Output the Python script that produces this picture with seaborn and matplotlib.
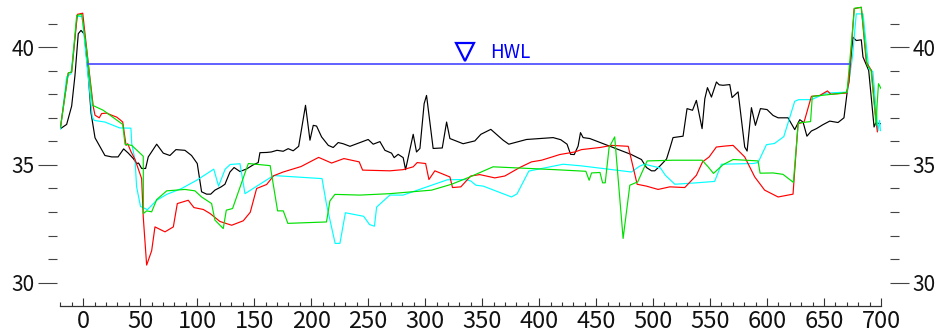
import numpy as np
import pandas as pd
import matplotlib
matplotlib.use("Agg")
import matplotlib.pyplot as plt
import matplotlib.transforms as mtransforms
from matplotlib.ticker import FixedLocator
import seaborn as sns

# ---------------- data ----------------
black_x = [-20, -14.6, -10.2, -7.3, -4.4, -2, 0.9, 4.4, 6.8, 10.3, 19, 25, 30.5, 35.4, 39.5, 43.9, 46.8, 48.5,
           51.2, 54.7, 57, 64.4, 70.2, 76, 81.3, 89.2, 95, 100, 103.8, 108.2, 111.8, 115.5, 121, 124.3, 128.7,
           132.3, 137.5, 143.3, 149, 153.5, 155, 160.9, 165, 170, 175.4, 179.8, 184.2, 189, 195, 198.9, 201.8,
           204.7, 209.1, 215, 219.3, 223.7, 228, 234, 250, 254.4, 260.3, 264.7, 270.5, 272.8, 276.3, 280.7,
           282.8, 289.5, 292.4, 295.4, 299.1, 301.2, 307, 315, 318.8, 321.7, 333.3, 343.6, 348.9, 357.6, 368.4,
           373.4, 388.9, 412.3, 419, 424.5, 427.6, 430.8, 434.2, 436.3, 438.6, 444.5, 480.5, 489.8, 494.2,
           498.6, 501.5, 505.9, 511.8, 514.7, 517.5, 526.3, 529.8, 534.6, 538, 543, 545.4, 547.7, 551.2, 555.6,
           558, 561.4, 567.3, 569.3, 574.6, 580.4, 582.5, 586.3, 589.8, 594.2, 600, 605.3, 609.7, 618.4, 624.3,
           628.7, 631.6, 635, 638.9, 643.3, 649.1, 655, 662.3, 667.5, 671.6, 675.4, 678.3, 682.7, 684.2, 689.2,
           693.9, 695.3, 700]
black_y = [36.54, 36.72, 37.5, 38.8, 40.57, 40.71, 40.55, 38.8, 37.2, 36.15, 35.4, 35.34, 35.34, 35.68, 35.5,
           35.27, 35.06, 35.08, 34.85, 34.85, 35.34, 35.88, 35.5, 35.4, 35.65, 35.62, 35.4, 35.06, 33.86, 33.76,
           33.76, 33.93, 34.07, 34.18, 34.7, 34.89, 34.72, 34.83, 35.0, 35.1, 35.52, 35.53, 35.55, 35.62, 35.58,
           35.69, 35.6, 35.79, 37.53, 36.05, 36.68, 36.65, 36.19, 35.83, 35.74, 35.95, 35.9, 35.79, 36.08, 35.88,
           35.99, 35.62, 35.5, 35.31, 35.45, 35.31, 34.8, 36.3, 35.55, 35.7, 37.6, 37.95, 35.7, 35.72, 36.82,
           36.12, 35.9, 36.02, 36.3, 36.51, 36.05, 35.88, 36.08, 36.16, 36.07, 35.88, 35.45, 35.44, 35.8, 36.37,
           36.16, 36.12, 35.45, 35.23, 34.89, 34.75, 34.75, 34.95, 35.25, 35.7, 36.16, 36.22, 37.39, 37.32, 37.74,
           36.54, 37.81, 38.28, 37.88, 38.52, 38.4, 38.38, 38.41, 37.86, 38.1, 35.76, 35.59, 37.43, 36.68, 37.39,
           37.35, 37.1, 37.0, 37.0, 36.5, 36.92, 36.82, 36.22, 36.44, 36.54, 36.71, 36.86, 36.8, 37.0, 38.59,
           40.42, 40.28, 40.31, 39.58, 39.01, 36.61, 36.78, 36.75]

red_x = [-20, -13.2, -10.2, -5.2, -0.5, 4.4, 8.8, 10.3, 14, 16.1, 20.5, 24.9, 29.3, 32.2, 34.6, 37.5, 39,
         41.6, 45.4, 51.2, 52.6, 55.6, 60, 62.9, 71.7, 79, 82.5, 92.1, 97.1, 105.3, 111.2, 119.9, 130.2, 140.4,
         146.5, 152.1, 160.9, 167, 175.4, 191, 206.5, 217.9, 228.7, 242.1, 245.1, 269, 280.7, 289.5, 293, 300.4,
         303.3, 308.5, 321.7, 324, 331.3, 340, 347.9, 361.1, 369.9, 383, 393.3, 402.1, 411.5, 418, 431.3,
         437.1, 453.4, 463.6, 478.2, 486, 494.2, 504.4, 514.7, 527.8, 538, 543.4, 549.2, 555.5, 562.9, 570.2,
         580.4, 589.2, 597.9, 609.7, 622.8, 627.2, 632.5, 638.9, 646.2, 653, 656, 669.6, 672, 676.4, 682.7,
         687.1, 691.6, 695, 696.8]
red_y = [36.62, 38.9, 38.94, 41.39, 41.44, 39.3, 37.46, 37.11, 37.0, 37.18, 37.2, 37.11, 37.03, 36.92, 36.82,
         35.83, 35.9, 35.59, 35.23, 34.42, 32.8, 30.75, 31.36, 32.37, 32.16, 32.37, 33.36, 33.5, 33.19, 33.11,
         32.94, 32.6, 32.44, 32.63, 32.99, 34.0, 34.17, 34.54, 34.7, 34.93, 35.32, 35.08, 35.27, 35.13, 34.78,
         34.75, 34.8, 34.92, 35.1, 35.06, 34.38, 34.75, 34.49, 34.04, 34.07, 34.53, 34.59, 34.45, 34.53, 34.89,
         35.13, 35.2, 35.34, 35.44, 35.55, 35.65, 35.74, 35.83, 35.79, 34.18, 34.1, 33.96, 34.07, 34.04, 34.56,
         35.13, 35.34, 35.76, 35.8, 35.83, 35.34, 34.49, 33.93, 33.64, 33.76, 36.75, 36.82, 37.91, 37.95,
         38.14, 38.0, 38.05, 38.52, 41.63, 41.69, 39.36, 39.01, 37.18, 36.4]

green_x = [-20, -13.2, -10.2, -5.8, -1.4, 3, 8.2, 17.5, 34.6, 36.6, 42.5, 52.6, 52.8, 55.6, 60, 64.4, 73.2,
           89.2, 98, 103.8, 112.6, 115.5, 122.8, 125.5, 131, 144.8, 164, 170.5, 175.5, 179.5, 213.4, 216.4,
           220.8, 242.7, 269, 305.6, 323.2, 339.2, 359.6, 413.8, 441, 443.9, 446, 453.4, 455.7, 458, 461.4,
           466.3, 473.7, 479.6, 486.5, 494.8, 517.5, 543, 548.3, 553, 561.4, 570.2, 592.1, 593.9, 605.3, 614,
           623.1, 627.4, 638.2, 639.7, 666.7, 670.2, 676.7, 682.7, 687.8, 691.3, 695.8, 696.5, 697.8, 700]
green_y = [36.6, 38.9, 38.95, 41.34, 41.39, 39.86, 37.53, 37.32, 36.72, 35.88, 35.83, 35.37, 32.94, 33.05,
           33.01, 33.53, 33.9, 33.96, 33.9, 33.64, 33.36, 32.66, 32.3, 33.08, 33.15, 35.06, 34.97, 33.05, 33.05,
           32.52, 32.58, 33.47, 33.75, 33.72, 33.78, 33.93, 34.18, 34.49, 34.92, 34.8, 34.73, 34.35, 34.66,
           34.68, 34.24, 34.24, 35.74, 36.19, 31.88, 34.14, 34.28, 35.17, 35.2, 35.2, 34.92, 34.64, 35.01, 35.23,
           35.17, 34.65, 34.66, 34.6, 34.26, 36.78, 36.84, 37.91, 38.05, 38.09, 41.65, 41.69, 39.25, 39.01,
           36.68, 37.5, 38.45, 38.24]

cyan_x = [-20, -14.6, -10.8, -5.5, -1, 7.9, 9.6, 19, 32, 41.8, 42.5, 45.4, 46.8, 50.2, 56.3, 64.4, 73.2,
          86.3, 99.5, 114.5, 118.7, 124.5, 129, 137.5, 141.9, 167, 209.5, 213.4, 221, 225.2, 230, 246, 251.2,
          255.5, 257.4, 269, 280.7, 319.5, 334.8, 340, 344.5, 351, 375.8, 380.6, 391, 421, 437.1, 481, 488.3,
          492.5, 506.5, 510.8, 519.1, 538, 554, 560, 587.7, 592.1, 599.5, 606.5, 614.7, 624.3, 627.8, 638.9,
          652, 670.5, 675, 678.3, 684.2, 689.3, 692.9, 697.3, 698.8, 699.5]
cyan_y = [36.52, 38.74, 38.87, 41.3, 41.3, 37.03, 36.89, 36.82, 36.57, 36.56, 35.91, 35.2, 34.07, 33.24,
          33.1, 33.5, 33.75, 34.0, 34.35, 34.82, 34.1, 34.82, 35.02, 35.05, 33.78, 34.55, 34.42, 33.33, 31.67,
          31.67, 32.97, 32.82, 32.47, 32.4, 33.21, 33.72, 33.72, 34.37, 34.38, 34.32, 34.14, 34.1, 33.64, 33.77,
          34.74, 35.03, 34.96, 34.7, 34.95, 35.03, 34.87, 34.56, 34.18, 34.24, 34.3, 35.03, 35.06, 35.1, 35.86,
          35.91, 36.2, 37.7, 37.77, 37.77, 38.05, 38.09, 39.6, 41.41, 41.41, 39.08, 38.96, 36.45, 36.89, 36.45]

hwl_level = 39.3
hwl_span = [4, 672]
hwl_mark_x = 335
hwl_label = "HWL"

x_major = list(range(0, 701, 50))
x_minor = list(range(-20, 701, 10))
y_major = [30, 35, 40]
y_minor = [31, 32, 33, 34, 36, 37, 38, 39, 41]

# ---------------- plot ----------------
sns.set_theme(style="white")
plt.rcParams["font.family"] = ["Noto Sans CJK JP", "DejaVu Sans"]

fig = plt.figure(figsize=(9.43, 3.34), dpi=100)
ax = fig.add_axes([60.5 / 943, 27.7 / 334, 820.5 / 943, 306.3 / 334])

series = [
    (black_x, black_y, "#000000"),
    (cyan_x, cyan_y, "#00ffff"),
    (red_x, red_y, "#ff0000"),
    (green_x, green_y, "#00e000"),
]
for xs, ys, col in series:
    df = pd.DataFrame({"x": xs, "y": ys})
    sns.lineplot(data=df, x="x", y="y", ax=ax, color=col, lw=0.85, sort=False, estimator=None)

# HWL
sns.lineplot(x=hwl_span, y=[hwl_level, hwl_level], ax=ax, color="#4646ff", lw=1.2, sort=False, estimator=None)
off = mtransforms.ScaledTranslation(0, 8.3 / 72, fig.dpi_scale_trans)
ax.plot([hwl_mark_x], [hwl_level], marker="v", markersize=12.5, markerfacecolor="none",
        markeredgecolor="#0000ff", markeredgewidth=1.6, transform=ax.transData + off)
off2 = mtransforms.ScaledTranslation(18 / 72, 0.5 / 72, fig.dpi_scale_trans)
ax.text(hwl_mark_x, hwl_level, hwl_label, color="#0000ff", fontsize=13.5, ha="left", va="bottom",
        transform=ax.transData + off2)

ax.set_xlim(-20, 700)
ax.set_ylim(29, 42)
ax.set_xlabel("")
ax.set_ylabel("")

ax.xaxis.set_major_locator(FixedLocator(x_major))
ax.xaxis.set_minor_locator(FixedLocator(x_minor))
ax.yaxis.set_major_locator(FixedLocator(y_major))
ax.yaxis.set_minor_locator(FixedLocator(y_minor))
ax.set_xticklabels([str(v) for v in x_major])
ax.set_yticklabels([str(v) for v in y_major])

ax.spines["top"].set_visible(False)
ax.spines["left"].set_visible(False)
ax.spines["right"].set_visible(False)
ax.spines["left"].set_position(("outward", 2.5))
ax.spines["right"].set_position(("outward", 6.5))
ax.spines["bottom"].set_color("#333333")
ax.spines["bottom"].set_linewidth(0.9)

ax.tick_params(axis="x", which="major", direction="in", length=5.5, width=0.8, color="#333333",
               labelsize=17, pad=2.5, bottom=True, top=False, labelcolor="#111111")
ax.tick_params(axis="x", which="minor", direction="in", length=2.8, width=0.8, color="#333333",
               bottom=True, top=False)
ax.tick_params(axis="y", which="major", direction="out", length=13.5, width=0.8, color="#444444",
               labelsize=15, pad=2.5, left=True, right=True, labelleft=True, labelright=True,
               labelcolor="#111111")
ax.tick_params(axis="y", which="minor", direction="out", length=6.5, width=0.8, color="#444444",
               left=True, right=True)

ax.grid(False)
ax.set_facecolor("white")
fig.patch.set_facecolor("white")

fig.savefig("out.png", dpi=100, facecolor="white")
